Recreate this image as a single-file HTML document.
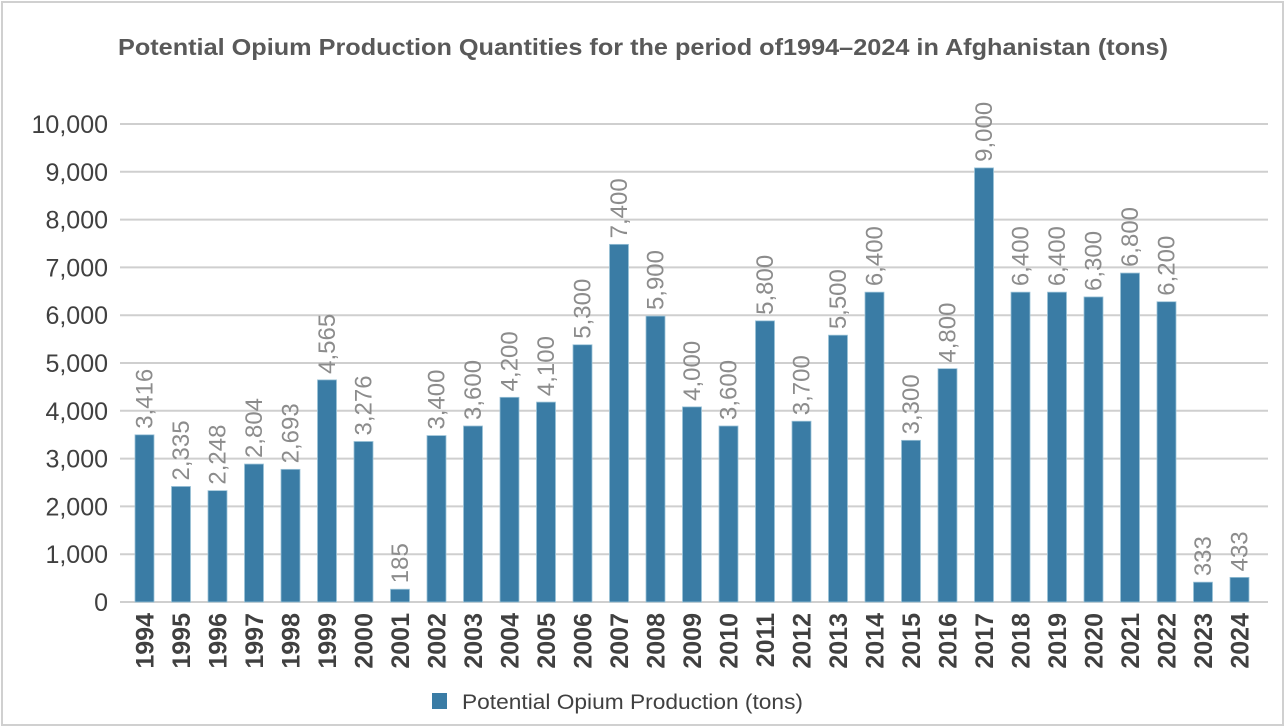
<!DOCTYPE html>
<html><head><meta charset="utf-8"><style>
body{margin:0;background:#fff}
svg{display:block;font-family:"Liberation Sans",sans-serif}
</style></head><body>
<svg width="1286" height="728" xmlns="http://www.w3.org/2000/svg">
<rect x="2" y="2" width="1281" height="723" fill="#fff" stroke="#d0d0d0" stroke-width="2"/>
<text x="118" y="55" font-size="23" font-weight="bold" fill="#595959" textLength="1050" lengthAdjust="spacingAndGlyphs">Potential Opium Production Quantities for the period of1994–2024 in Afghanistan (tons)</text>
<g id="g"></g>
<rect x="432" y="693" width="15" height="16" fill="#3a7ca5"/>
<text x="462" y="709" font-size="21" fill="#404040" textLength="341" lengthAdjust="spacingAndGlyphs">Potential Opium Production (tons)</text>
</svg>
<script>
const vals=[3416,2335,2248,2804,2693,4565,3276,185,3400,3600,4200,4100,5300,7400,5900,4000,3600,5800,3700,5500,6400,3300,4800,9000,6400,6400,6300,6800,6200,333,433];
const g=document.getElementById('g');let s='';
const y0=602,k=47.8/1000;
for(let i=0;i<=10;i++){const y=y0-i*1000*k;
s+=`<line x1="120" x2="1268" y1="${y}" y2="${y}" stroke="#cfcfcf" stroke-width="2"/>`;
s+=`<text x="108" y="${y+9}" text-anchor="end" font-size="25" fill="#404040">${(i*1000).toLocaleString('en-US')}</text>`;}
vals.forEach((v,i)=>{const cx=144.5+i*36.5;const h=(v+82)*k;const top=y0-h;
s+=`<rect x="${cx-9.5}" y="${top}" width="19" height="${h}" fill="#3a7ca5" stroke="#9cc3d8" stroke-width="0.8"/>`;
s+=`<text transform="translate(${cx+8},${top-6}) rotate(-90)" font-size="24" fill="#8c8c8c">${v.toLocaleString('en-US')}</text>`;
s+=`<text transform="translate(${cx+9},${613}) rotate(-90)" text-anchor="end" font-size="25" font-weight="bold" fill="#404040">${1994+i}</text>`;});
g.innerHTML=s;
</script>
</body></html>
